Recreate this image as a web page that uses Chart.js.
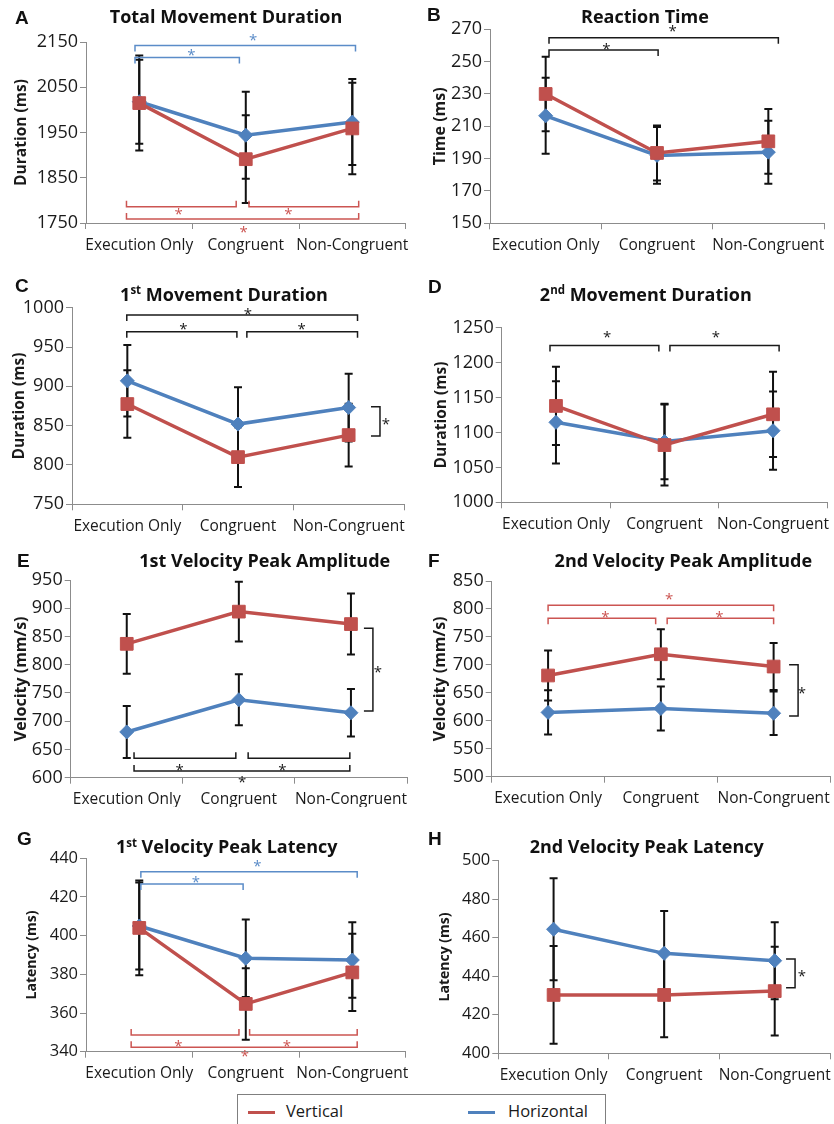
<!DOCTYPE html>
<html>
<head>
<meta charset="utf-8">
<script src="https://cdn.jsdelivr.net/npm/chart.js@4.4.0/dist/chart.umd.min.js"></script>
<style>
  html, body { margin: 0; padding: 0; background: #fff; overflow: hidden; }
  body { width: 834px; height: 1124px; position: relative; font-family: 'Open Sans', sans-serif; }
  canvas { position: absolute; }
  #legend { position: absolute; left: 237px; top: 1094px; width: 369px; height: 40px;
            border: 1px solid #7f7f7f; box-sizing: border-box; }
  #legend .sw { position: absolute; top: 16px; width: 27px; height: 3px; }
  #legend .lb { position: absolute; top: 5px; font-size: 16.5px; color: #1a1a1a; line-height: 22px; }
</style>
</head>
<body>
<div id="legend"></div>
<script>
const categories = ['Execution Only', 'Congruent', 'Non-Congruent'];
const seriesNames = ['Vertical', 'Horizontal'];

// A - total movement duration
const totalVert = [2015, 1891, 1959];
const totalVertErr = [105, 97, 101];
const totalHor = [2018, 1944, 1973];
const totalHorErr = [93, 96, 95];
const totalTicks = [1750, 2150, 100];
// [from, to, y, starX, starY, colour]
const totalBrackets = [
  [-0.04, 2.03, 2142, 1.07, 2159, 'blue'],
  [-0.04, 0.94, 2116, 0.49, 2126, 'blue'],
  [-0.12, 0.91, 1786, 0.37, 1775, 'red'],
  [1.03, 2.06, 1786, 1.40, 1775, 'red'],
  [-0.12, 2.06, 1759, 0.98, 1735, 'red']
];

// B - reaction time
const rtVert = [230, 193.5, 200.7];
const rtVertErr = [23, 17, 20];
const rtHor = [216.5, 192, 194];
const rtHorErr = [23.5, 17.5, 19.5];
const rtTicks = [150, 270, 20];
const rtBrackets = [
  [0.03, 2.09, 264.8, 1.14, 270.2, 'black'],
  [0.03, 1.01, 257.2, 0.545, 259.2, 'black']
];

// C - 1st movement duration
const mov1Vert = [877.5, 810, 838];
const mov1VertErr = [43, 38, 40];
const mov1Hor = [907, 852, 873];
const mov1HorErr = [45.5, 47, 43];
const mov1Ticks = [750, 1000, 50];
const mov1Brackets = [
  [-0.005, 2.08, 990.7, 1.09, 994.8, 'black'],
  [-0.005, 0.99, 969.4, 0.506, 975.8, 'black'],
  [1.08, 2.08, 969.4, 1.575, 975.8, 'black']
];
// [from, to, x, starX, colour]
const mov1Side = [[874, 837, 2.283, 2.337, 'black']];

// D - 2nd movement duration
const mov2Vert = [1138, 1082, 1126];
const mov2VertErr = [56, 58, 61];
const mov2Hor = [1114.5, 1087, 1102.5];
const mov2HorErr = [59, 54, 56];
const mov2Ticks = [1000, 1250, 50];
const mov2Brackets = [
  [-0.055, 0.948, 1224.4, 0.472, 1239.7, 'black'],
  [1.05, 2.056, 1224.4, 1.473, 1239.7, 'black']
];

// E - 1st velocity peak amplitude
const amp1Vert = [837, 894, 872];
const amp1VertErr = [53, 53, 54];
const amp1Hor = [681, 738, 715];
const amp1HorErr = [46, 45, 42];
const amp1Ticks = [600, 950, 50];
const amp1Brackets = [
  [0.065, 0.973, 634.3, 0.472, 617.7, 'black'],
  [1.083, 1.99, 634.3, 1.389, 617.7, 'black'],
  [0.065, 1.99, 611.9, 1.03, 595.9, 'black']
];
const amp1Side = [[864.5, 718, 2.196, 2.24, 'black']];

// F - 2nd velocity peak amplitude
const amp2Vert = [681, 719, 697];
const amp2VertErr = [44.5, 44.5, 42];
const amp2Hor = [615, 622, 613.5];
const amp2HorErr = [39.5, 39.5, 39];
const amp2Ticks = [500, 850, 50];
const amp2Brackets = [
  [0, 2.0, 806.6, 1.073, 822, 'red'],
  [0, 0.954, 783.4, 0.508, 789.3, 'red'],
  [1.056, 2.0, 783.4, 1.52, 789.3, 'red']
];
const amp2Side = [[700, 608.6, 2.217, 2.25, 'black']];

// G - 1st velocity peak latency
const lat1Vert = [404, 364.7, 381];
const lat1VertErr = [24.5, 18.5, 20];
const lat1Hor = [405, 388.3, 387.4];
const lat1HorErr = [22.5, 20, 19.5];
const lat1Ticks = [340, 440, 20];
const lat1Brackets = [
  [0.015, 2.046, 433.1, 1.109, 437.4, 'blue'],
  [0.015, 0.975, 426.7, 0.532, 428.8, 'blue'],
  [-0.076, 0.936, 348.6, 0.368, 344.3, 'red'],
  [1.036, 2.046, 348.6, 1.386, 344.3, 'red'],
  [-0.076, 2.046, 342.3, 0.991, 338.7, 'red']
];

// H - 2nd velocity peak latency
const lat2Vert = [430.3, 430.3, 432.3];
const lat2VertErr = [25.4, 22, 23];
const lat2Hor = [464.4, 451.9, 448.1];
const lat2HorErr = [26.5, 22, 20];
const lat2Ticks = [400, 500, 20];
const lat2Side = [[449, 434, 2.184, 2.246, 'black']];

const RED = '#C0504D', BLUE = '#4F81BD', INK = '#1a1a1a', AXIS = '#8c8c8c';
const COLORS = { red: '#cc5552', blue: '#5b8cc8', black: INK };
const FONT = "'Open Sans', sans-serif";

// layout: box = canvas [left, top, w, h]; area = axes [left, top, right, bottom] (page px)
const panels = [
  { letter: 'A', title: ['Total Movement Duration'], yTitle: 'Duration (ms)',
    vert: totalVert, vertErr: totalVertErr, hor: totalHor, horErr: totalHorErr, ticks: totalTicks,
    brackets: totalBrackets, side: [],
    box: [0, 0, 417, 262], area: [86, 42, 407, 223], titleAt: [226, 18], letterAt: [15, 19],
    yTitleX: 22, yTitleSize: 15.5, tickSize: 18 },
  { letter: 'B', title: ['Reaction Time'], yTitle: 'Time (ms)',
    vert: rtVert, vertErr: rtVertErr, hor: rtHor, horErr: rtHorErr, ticks: rtTicks,
    brackets: rtBrackets, side: [],
    box: [420, 0, 414, 262], area: [490, 29.3, 825, 223.3], titleAt: [645, 18], letterAt: [427, 16],
    yTitleX: 440, yTitleSize: 16, tickSize: 18 },
  { letter: 'C', title: ['1', 'st', ' Movement Duration'], yTitle: 'Duration (ms)',
    vert: mov1Vert, vertErr: mov1VertErr, hor: mov1Hor, horErr: mov1HorErr, ticks: mov1Ticks,
    brackets: mov1Brackets, side: mov1Side,
    box: [0, 262, 417, 275], area: [72, 307.7, 404, 504.3], titleAt: [224, 295.7], letterAt: [15, 286.7],
    yTitleX: 20, yTitleSize: 15.5, tickSize: 18 },
  { letter: 'D', title: ['2', 'nd', ' Movement Duration'], yTitle: 'Duration (ms)',
    vert: mov2Vert, vertErr: mov2VertErr, hor: mov2Hor, horErr: mov2HorErr, ticks: mov2Ticks,
    brackets: mov2Brackets, side: [],
    box: [420, 262, 420, 275], area: [501.7, 327.7, 827.3, 502.3], titleAt: [645.8, 295.7], letterAt: [428, 287.5],
    yTitleX: 441.7, yTitleSize: 15.5, tickSize: 18 },
  { letter: 'E', title: ['1st Velocity Peak Amplitude'], yTitle: 'Velocity (mm/s)',
    vert: amp1Vert, vertErr: amp1VertErr, hor: amp1Hor, horErr: amp1HorErr, ticks: amp1Ticks,
    brackets: amp1Brackets, side: amp1Side,
    box: [0, 537, 417, 270], area: [70.7, 580, 414.2, 777.7], titleAt: [264.7, 561.7], letterAt: [17, 562],
    yTitleX: 21.7, yTitleSize: 16, tickSize: 18 },
  { letter: 'F', title: ['2nd Velocity Peak Amplitude'], yTitle: 'Velocity (mm/s)',
    vert: amp2Vert, vertErr: amp2VertErr, hor: amp2Hor, horErr: amp2HorErr, ticks: amp2Ticks,
    brackets: amp2Brackets, side: amp2Side,
    box: [420, 537, 420, 270], area: [491.7, 581, 836.7, 776.7], titleAt: [683.3, 561.7], letterAt: [428, 562],
    yTitleX: 440.7, yTitleSize: 16, tickSize: 18 },
  { letter: 'G', title: ['1', 'st', ' Velocity Peak Latency'], yTitle: 'Latency (ms)',
    vert: lat1Vert, vertErr: lat1VertErr, hor: lat1Hor, horErr: lat1HorErr, ticks: lat1Ticks,
    brackets: lat1Brackets, side: [],
    box: [0, 807, 417, 280], area: [86, 858.3, 415.1, 1051.7], titleAt: [226.7, 848.3], letterAt: [17, 840],
    yTitleX: 31.7, yTitleSize: 14, tickSize: 16.5 },
  { letter: 'H', title: ['2nd Velocity Peak Latency'], yTitle: 'Latency (ms)',
    vert: lat2Vert, vertErr: lat2VertErr, hor: lat2Hor, horErr: lat2HorErr, ticks: lat2Ticks,
    brackets: [], side: lat2Side,
    box: [420, 807, 420, 280], area: [498.3, 860.7, 835.8, 1053.3], titleAt: [646.7, 848.3], letterAt: [428, 840],
    yTitleX: 445, yTitleSize: 14, tickSize: 16.5 }
];

function decor(p) {
  const ox = p.box[0], oy = p.box[1];
  return {
    id: 'decor' + p.letter,
    beforeDatasetsDraw(chart) {
      // error bars
      const { ctx, scales: { y } } = chart;
      const errs = [p.vertErr, p.horErr];
      ctx.save();
      ctx.strokeStyle = '#111';
      ctx.lineWidth = 2;
      chart.data.datasets.forEach((ds, di) => {
        chart.getDatasetMeta(di).data.forEach((pt, i) => {
          const top = y.getPixelForValue(ds.data[i] + errs[di][i]);
          const bot = y.getPixelForValue(ds.data[i] - errs[di][i]);
          ctx.beginPath();
          ctx.moveTo(pt.x, top); ctx.lineTo(pt.x, bot);
          ctx.moveTo(pt.x - 4, top); ctx.lineTo(pt.x + 4, top);
          ctx.moveTo(pt.x - 4, bot); ctx.lineTo(pt.x + 4, bot);
          ctx.stroke();
        });
      });
      ctx.restore();
    },
    afterDatasetsDraw(chart) {
      // significance brackets
      const { ctx, scales: { x, y } } = chart;
      ctx.save();
      ctx.lineWidth = 1.5;
      ctx.font = '15px ' + FONT;
      ctx.textAlign = 'center';
      ctx.textBaseline = 'middle';
      p.brackets.forEach(([x1, x2, v, sx, sv, c]) => {
        const px1 = x.getPixelForValue(x1), px2 = x.getPixelForValue(x2), py = y.getPixelForValue(v);
        const d = sv > v ? 6 : -6;
        ctx.strokeStyle = ctx.fillStyle = COLORS[c];
        ctx.beginPath();
        ctx.moveTo(px1, py + d); ctx.lineTo(px1, py); ctx.lineTo(px2, py); ctx.lineTo(px2, py + d);
        ctx.stroke();
        ctx.fillText('*', x.getPixelForValue(sx), y.getPixelForValue(sv) + 3);
      });
      p.side.forEach(([v1, v2, xv, sx, c]) => {
        const px = x.getPixelForValue(xv), p1 = y.getPixelForValue(v1), p2 = y.getPixelForValue(v2);
        ctx.strokeStyle = ctx.fillStyle = COLORS[c];
        ctx.beginPath();
        ctx.moveTo(px - 9, p1); ctx.lineTo(px, p1); ctx.lineTo(px, p2); ctx.lineTo(px - 9, p2);
        ctx.stroke();
        ctx.fillText('*', x.getPixelForValue(sx), (p1 + p2) / 2 + 3);
      });
      ctx.restore();
    },
    afterDraw(chart) {
      const ctx = chart.ctx;
      ctx.save();
      ctx.fillStyle = '#111';
      ctx.textBaseline = 'middle';
      ctx.textAlign = 'left';
      ctx.font = 'bold 19px "Liberation Sans", Arial, sans-serif';
      ctx.fillText(p.letter, p.letterAt[0] - ox, p.letterAt[1] - oy);
      // title, odd parts are superscript
      const big = 'bold 18px ' + FONT, small = 'bold 11.5px ' + FONT;
      let w = 0;
      p.title.forEach((t, i) => { ctx.font = i % 2 ? small : big; w += ctx.measureText(t).width; });
      let tx = p.titleAt[0] - ox - w / 2;
      const ty = p.titleAt[1] - oy;
      p.title.forEach((t, i) => {
        ctx.font = i % 2 ? small : big;
        ctx.fillText(t, tx, i % 2 ? ty - 5 : ty);
        tx += ctx.measureText(t).width;
      });
      ctx.restore();
    }
  };
}

panels.forEach(p => {
  const [bl, bt, bw, bh] = p.box;
  const [al, at, ar, ab] = p.area;
  const cv = document.createElement('canvas');
  cv.width = bw; cv.height = bh;
  cv.style.left = bl + 'px'; cv.style.top = bt + 'px';
  document.body.appendChild(cv);

  new Chart(cv, {
    type: 'line',
    data: {
      labels: categories,
      datasets: [
        { label: seriesNames[0], data: p.vert, borderColor: RED, backgroundColor: RED, borderWidth: 3.5,
          pointStyle: 'rect', pointRadius: 9, pointHoverRadius: 9, pointBorderWidth: 1 },
        { label: seriesNames[1], data: p.hor, borderColor: BLUE, backgroundColor: BLUE, borderWidth: 3.5,
          pointStyle: 'rectRot', pointRadius: 7, pointHoverRadius: 7, pointBorderWidth: 1 }
      ]
    },
    options: {
      responsive: false,
      animation: false,
      events: [],
      layout: { padding: { left: 0, top: at - bt, right: bl + bw - ar, bottom: 0 } },
      plugins: { legend: { display: false }, title: { display: false }, tooltip: { enabled: false } },
      scales: {
        x: {
          offset: true,
          grid: { display: true, offset: true, drawOnChartArea: false, drawTicks: true, tickLength: 6, color: AXIS },
          border: { display: true, color: AXIS, width: 1 },
          ticks: { color: INK, font: { family: FONT, size: 15.5 }, padding: 7, maxRotation: 0, autoSkip: false },
          afterFit(s) { s.height = bt + bh - ab; }
        },
        y: {
          min: p.ticks[0], max: p.ticks[1],
          grid: { drawOnChartArea: false, drawTicks: true, tickLength: 6, color: AXIS },
          border: { display: true, color: AXIS, width: 1 },
          ticks: { stepSize: p.ticks[2], color: INK, font: { family: FONT, size: p.tickSize }, padding: 2,
                   callback: v => String(v) },
          title: { display: true, text: p.yTitle, color: INK,
                   font: { family: FONT, size: p.yTitleSize, weight: 'bold' },
                   padding: { top: p.yTitleX - bl - p.yTitleSize * 0.6, bottom: 0 } },
          afterFit(s) { s.width = al - bl; }
        }
      }
    },
    plugins: [decor(p)]
  });
});

// legend
const legend = document.getElementById('legend');
[[RED, 10, 48], [BLUE, 230, 270]].forEach(([col, sw, lb], i) => {
  const s = document.createElement('span');
  s.className = 'sw'; s.style.left = sw + 'px'; s.style.background = col;
  const t = document.createElement('span');
  t.className = 'lb'; t.style.left = lb + 'px'; t.textContent = seriesNames[i];
  legend.appendChild(s); legend.appendChild(t);
});
</script>
</body>
</html>
